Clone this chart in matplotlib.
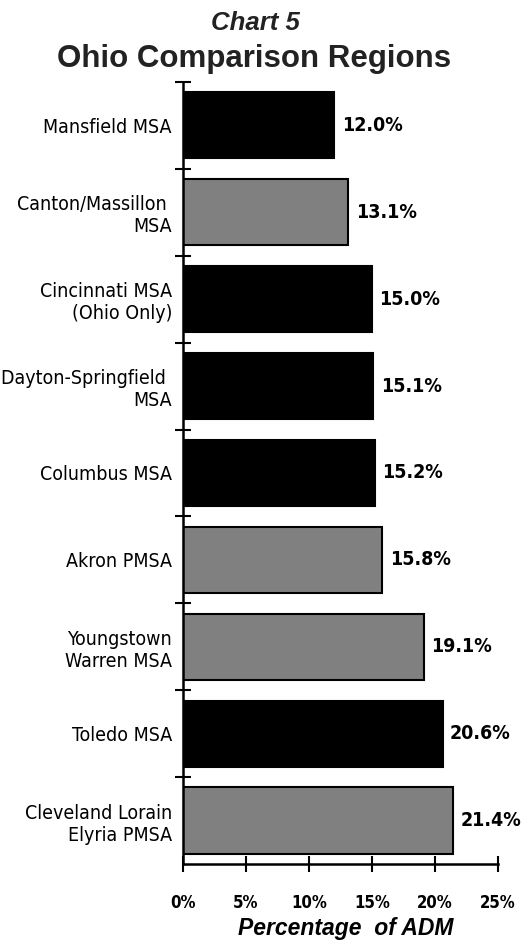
import matplotlib
matplotlib.use("Agg")
import matplotlib.pyplot as plt

# data, top to bottom as in the chart
regions = ["Mansfield MSA", "Canton/Massillon \nMSA", "Cincinnati MSA\n(Ohio Only)",
           "Dayton-Springfield \nMSA", "Columbus MSA", "Akron PMSA",
           "Youngstown\nWarren MSA", "Toledo MSA", "Cleveland Lorain\nElyria PMSA"]
pct = [12.0, 13.1, 15.0, 15.1, 15.2, 15.8, 19.1, 20.6, 21.4]
shade = ["black", "gray", "black", "black", "black", "gray", "gray", "black", "gray"]
xticks = [0, 5, 10, 15, 20, 25]

colmap = {"black": "#000000", "gray": "#808080"}
plain = ["Liberation Sans", "DejaVu Sans"]
nar = dict(family="DejaVu Sans", stretch="condensed")

fig = plt.figure(figsize=(5.22, 9.47), dpi=100)
ax = fig.add_axes([0.3506, 0.0877, 0.6034, 0.8257])

ypos = list(range(len(regions)))
ax.barh(ypos, pct, height=0.76, color=[colmap[s] for s in shade],
        edgecolor="black", linewidth=1.5)

for y, v in zip(ypos, pct):
    ax.text(v + 0.6, y, f"{v:.1f}%", va="center", ha="left", fontsize=14,
            fontweight="bold", **nar)

ax.set_xlim(0, 25)
ax.set_ylim(len(regions) - 0.5, -0.5)

ax.set_xticks(xticks)
ax.set_xticklabels([f"{t}%" for t in xticks], fontsize=12, fontweight="bold", **nar)
ax.tick_params(axis="x", direction="inout", length=11, width=1.5, pad=16)

# category labels at bar centres, tick marks at category boundaries
ax.set_yticks(ypos)
ax.set_yticklabels(regions, fontsize=14, ha="right", multialignment="right", **nar)
ax.tick_params(axis="y", which="major", length=0, pad=8)
ax.set_yticks([y - 0.5 for y in ypos], minor=True)
ax.tick_params(axis="y", which="minor", direction="inout", length=11, width=1.5)

for s in ["top", "right"]:
    ax.spines[s].set_visible(False)
for s in ["left", "bottom"]:
    ax.spines[s].set_linewidth(1.8)

fig.text(0.489, 0.9683, "Chart 5", ha="center", va="baseline", fontsize=18.5,
         fontweight="bold", style="italic", family=plain, color="#222222")
fig.text(0.486, 0.9293, "Ohio Comparison Regions", ha="center", va="baseline",
         fontsize=22.5, fontweight="bold", family=plain, color="#222222")
fig.text(0.662, 0.0127, "Percentage  of ADM", ha="center", va="baseline",
         fontsize=16.5, fontweight="bold", style="italic", family=plain)

fig.savefig("out.png", dpi=100)
